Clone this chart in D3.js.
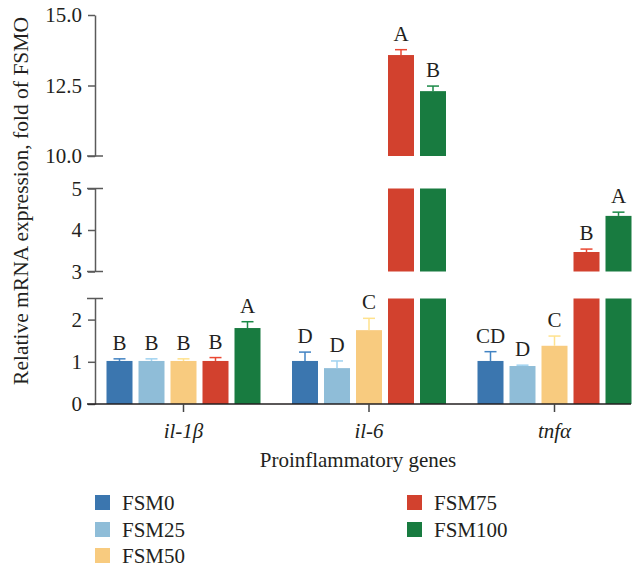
<!DOCTYPE html>
<html>
<head>
<meta charset="utf-8">
<script src="https://cdn.jsdelivr.net/npm/d3@7"></script>
<style>
  body { margin: 0; background: #fff; }
  svg text { font-family: "Liberation Serif", "Times New Roman", serif; fill: #231f20; }
</style>
</head>
<body>
<div id="chart"></div>
<script>
// data
const genes = ['il-1β', 'il-6', 'tnfα']
const groups = ['FSM0', 'FSM25', 'FSM50', 'FSM75', 'FSM100']
const colors = ['#3b76af', '#8fbdd8', '#f8cb7f', '#d2412e', '#187b40']

const fsm0 = [1.02, 1.02, 1.02]
const fsm25 = [1.02, 0.85, 0.90]
const fsm50 = [1.02, 1.75, 1.38]
const fsm75 = [1.02, 13.58, 3.47]
const fsm100 = [1.80, 12.30, 4.34]

const err0 = [0.05, 0.21, 0.22]
const err25 = [0.05, 0.17, 0.02]
const err50 = [0.05, 0.28, 0.23]
const err75 = [0.08, 0.19, 0.07]
const err100 = [0.15, 0.18, 0.09]

const let0 = ['B', 'D', 'CD']
const let25 = ['B', 'D', 'D']
const let50 = ['B', 'C', 'C']
const let75 = ['B', 'A', 'B']
const let100 = ['A', 'B', 'A']

const means = [fsm0, fsm25, fsm50, fsm75, fsm100]
const errs = [err0, err25, err50, err75, err100]
const letters = [let0, let25, let50, let75, let100]

const width = 635, height = 568
const axisX = 95

// broken y axis: three segments
const segments = [
    { domain: [0, 2.5], range: [404, 298.5], ticks: [0, 1, 2], fmt: d3.format('d'), top: 2.5 },
    { domain: [3, 5], range: [271.5, 188.5], ticks: [3, 4, 5], fmt: d3.format('d'), top: 5 },
    { domain: [10, 15], range: [156, 15], ticks: [10, 12.5, 15], fmt: d3.format('.1f'), top: null }
]
segments.forEach(s => s.y = d3.scaleLinear().domain(s.domain).range(s.range))

const x = d3.scaleBand().domain(genes).range([90.75, 647.25]).padding(0)
const xSub = d3.scaleBand().domain(groups).range([-80, 80]).paddingInner(0.1875).paddingOuter(0.09375)

const svg = d3.select('#chart').append('svg')
    .attr('width', width)
    .attr('height', height)

// flatten into rows
const rows = []
groups.forEach((g, gi) => {
    genes.forEach((gene, i) => {
        rows.push({ group: g, gi: gi, gene: gene, v: means[gi][i], e: errs[gi][i], l: letters[gi][i] })
    })
})

const barX = d => x(d.gene) + x.bandwidth() / 2 + xSub(d.group)

// bars, split into each segment
segments.forEach(s => {
    const part = rows.filter(d => d.v > s.domain[0])
    svg.append('g').selectAll('rect')
        .data(part)
        .join('rect')
        .attr('x', barX)
        .attr('width', xSub.bandwidth())
        .attr('y', d => s.y(Math.min(d.v, s.domain[1])))
        .attr('height', d => s.y(s.domain[0]) - s.y(Math.min(d.v, s.domain[1])))
        .attr('fill', d => colors[d.gi])
})

// error bars + letters in whichever segment holds the bar top
function segOf(v) {
    return segments.find(s => v >= s.domain[0] && v <= s.domain[1] + 0.5) || segments[0]
}
const eg = svg.append('g')
rows.forEach(d => {
    const s = segOf(d.v)
    const cx = barX(d) + xSub.bandwidth() / 2
    const yTop = s.y(d.v + d.e)
    const col = d3.color(colors[d.gi]).brighter(0.3)
    eg.append('line')
        .attr('x1', cx).attr('x2', cx)
        .attr('y1', s.y(d.v)).attr('y2', yTop)
        .attr('stroke', col).attr('stroke-width', 1.5)
    eg.append('line')
        .attr('x1', cx - 6).attr('x2', cx + 6)
        .attr('y1', yTop).attr('y2', yTop)
        .attr('stroke', col).attr('stroke-width', 1.5)
    eg.append('text')
        .attr('x', cx)
        .attr('y', yTop - 9)
        .attr('text-anchor', 'middle')
        .attr('font-size', 21)
        .text(d.l)
})

// y axes
segments.forEach(s => {
    const ax = svg.append('g')
        .attr('transform', `translate(${axisX},0)`)
        .call(d3.axisLeft(s.y).tickValues(s.ticks).tickFormat(s.fmt).tickSize(7).tickSizeOuter(0).tickPadding(6))
    ax.select('.domain').attr('stroke', '#5a5a5a').attr('stroke-width', 1.5)
    ax.selectAll('.tick line').attr('stroke', '#5a5a5a').attr('stroke-width', 1.5)
    ax.selectAll('.tick text').attr('font-size', 21).attr('fill', '#231f20')
        .style('font-family', '"Liberation Serif", serif')
    // break caps at segment ends
    const caps = [s.domain[0], s.top].filter(v => v !== null && v !== 0)
    caps.forEach(v => {
        svg.append('line')
            .attr('x1', axisX - 8).attr('x2', axisX + 8)
            .attr('y1', s.y(v)).attr('y2', s.y(v))
            .attr('stroke', '#5a5a5a').attr('stroke-width', 1.5)
    })
})

// x axis
const xa = svg.append('g')
    .attr('transform', 'translate(0,404)')
    .call(d3.axisBottom(x).tickSize(8).tickSizeOuter(0).tickPadding(11))
xa.select('.domain').attr('d', 'M87,0H631').attr('stroke', '#231f20').attr('stroke-width', 1.5)
xa.selectAll('.tick line').attr('stroke', '#444').attr('stroke-width', 1.5)
xa.selectAll('.tick text')
    .attr('font-size', 21)
    .attr('font-style', 'italic')
    .attr('fill', '#231f20')
    .style('font-family', '"Liberation Serif", serif')

svg.append('text')
    .attr('x', 358)
    .attr('y', 467)
    .attr('text-anchor', 'middle')
    .attr('font-size', 21)
    .text('Proinflammatory genes')

svg.append('text')
    .attr('transform', 'translate(28,201) rotate(-90)')
    .attr('text-anchor', 'middle')
    .attr('font-size', 21.5)
    .text('Relative mRNA expression, fold of FSMO')

// legend
const legPos = [[95, 495], [95, 522], [95, 548], [407, 495], [407, 522]]
const leg = svg.append('g').selectAll('g')
    .data(groups)
    .join('g')
    .attr('transform', (d, i) => `translate(${legPos[i][0]},${legPos[i][1]})`)
leg.append('rect')
    .attr('width', 15).attr('height', 15)
    .attr('fill', (d, i) => colors[i])
leg.append('text')
    .attr('x', 27)
    .attr('y', 14.5)
    .attr('font-size', 21)
    .text(d => d)
</script>
</body>
</html>
